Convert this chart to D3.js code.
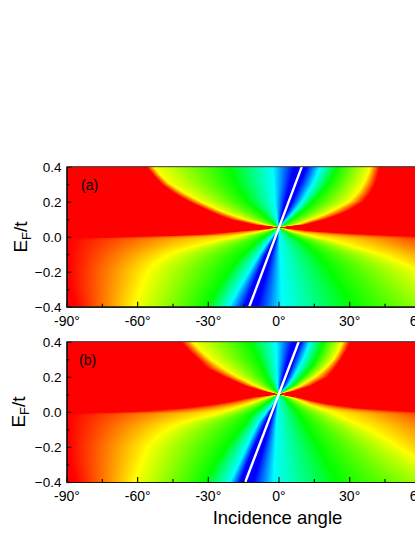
<!DOCTYPE html>
<html>
<head>
<meta charset="utf-8">
<script src="https://cdn.jsdelivr.net/npm/d3@7"></script>
<style>
  html, body { margin: 0; padding: 0; background: #fff; overflow: hidden; }
  svg { display: block; }
  text { font-family: "Liberation Sans", Arial, sans-serif; fill: #000; }
</style>
</head>
<body>
<svg id="chart" width="415" height="537"></svg>
<script>
// tick labels
var angleTicks = [-90, -60, -30, 0, 30, 60, 90];
var angleMinorTicks = [-75, -45, -15, 15, 45, 75];
var energyTicks = [-0.4, -0.2, 0.0, 0.2, 0.4];
var energyMinorTicks = [-0.3, -0.1, 0.1, 0.3];

// colour at each iso line, left to right across the panel
var isoColors = ["#ff0000", "#ffff00", "#00ff00", "#00ffff", "#0000ff", "#0000ff", "#00ffff", "#00ff00", "#ffff00", "#ff0000"];

// panel (a): E_F rows, and the angle where each colour is reached on that row
var rowsA = [0.4, 0.35, 0.3, 0.25, 0.2, 0.15, 0.125, 0.1, 0.07, 0.053, 0.04, 0.03, 0.02, 0.01, 0, -0.01, -0.02, -0.05, -0.07, -0.1, -0.15, -0.2, -0.3, -0.4];
var redLeftA = [-56, -53, -49.5, -44.5, -38, -30, -26, -21, -11, 0, -8.5, -18, -27, -36, -63, -85, -89, -89, -89, -89, -89, -89, -88, -86];
var yellowLeftA = [-53, -50, -46, -40, -33, -25, -20, -14.5, -6, 0, -3.5, -7.5, -11, -15, -17.5, -20, -25, -34, -39.5, -46, -52, -55.5, -58.5, -61];
var greenLeftA = [-21, -19.5, -18, -15.5, -13, -8.5, -6.3, -4, -1.5, 0, -1.2, -2.4, -3.6, -4.8, -6, -7, -8, -10.5, -12, -14.5, -18, -21, -26, -30];
var cyanLeftA = [-2.5, -2.2, -2, -1.7, -1.5, -1, -0.8, -0.5, -0.2, 0, -0.5, -1, -1.5, -2, -2.7, -3.2, -3.8, -5.5, -6.5, -8, -10.3, -12.5, -17, -21];
var blueLeftA = [6.5, 5.6, 4.8, 3.8, 2.8, 1.8, 1.3, 0.8, 0.3, 0, -0.3, -0.6, -0.9, -1.2, -1.5, -1.9, -2.2, -3.5, -4.2, -5.5, -7, -8.5, -11.5, -14.5];
var blueRightA = [12, 10.5, 9, 7.4, 5.8, 4, 3, 2, 0.8, 0, -0.1, -0.2, -0.3, -0.4, -0.6, -0.8, -1, -1.8, -2.3, -3, -4, -5, -7, -9];
var cyanRightA = [17.7, 16.2, 14.5, 12.3, 10, 7, 5.3, 3.5, 1.5, 0, 0.1, 0.15, 0.2, 0.25, 0.3, 0.35, 0.4, 0.5, 0.55, 0.6, 0.8, 1, 1.2, 1.5];
var greenRightA = [25, 23.2, 21, 17.8, 14.5, 10.5, 8, 5.5, 2.5, 0, 1.5, 2.8, 4, 5.2, 6.5, 7.7, 9, 12, 13.6, 16, 19.3, 22, 27, 31];
var yellowRightA = [39, 37.8, 36, 33.5, 30, 23, 19, 14.5, 8, 0, 3.5, 5.5, 8.5, 12, 14.5, 18, 22, 30, 35, 43, 52.5, 60, 69, 80];
var redRightA = [43, 42.2, 41, 39, 36, 30, 25.5, 20, 11.5, 0, 8, 16, 28, 42, 60, 72, 76, 82, 85, 90, 90, 90, 90, 90];
var whiteAnglesA = [-12.4, 9.9];

// panel (b)
var rowsB = [0.4, 0.35, 0.3, 0.25, 0.2, 0.15, 0.12, 0.1, 0.08, 0.06, 0.04, 0.02, 0, -0.01, -0.02, -0.05, -0.07, -0.1, -0.15, -0.2, -0.3, -0.4];
var redLeftB = [-41.5, -38, -34, -30.5, -23, -14.5, -7, 0, -12.5, -20, -29, -42, -63, -85, -89, -89, -89, -89, -89, -89, -88, -86];
var yellowLeftB = [-36.5, -33, -29, -23.5, -17.5, -10, -4.5, 0, -5, -9.5, -13.5, -18.5, -23.5, -26, -28, -38, -42.5, -47, -52, -55.5, -58.5, -61];
var greenLeftB = [-12, -10, -8.5, -6.5, -5, -3, -1, 0, -2, -4, -6, -8, -10, -11, -12, -13, -14, -16, -19, -22, -27, -31];
var cyanLeftB = [-1, -0.9, -0.8, -0.7, -0.5, -0.3, -0.1, 0, -0.8, -1.5, -2.5, -3.5, -5, -5.5, -6, -8, -8.8, -10, -11.8, -13.5, -17, -20.5];
var blueLeftB = [6.2, 5, 4, 3, 2, 0.9, 0.4, 0, -0.7, -1.4, -2.1, -2.8, -3.6, -3.9, -4.3, -5.3, -6, -7, -8.8, -10.5, -13.5, -16.3];
var blueRightB = [9.5, 8, 6.5, 5.2, 3.8, 2, 0.9, 0, -0.3, -0.8, -1.2, -1.6, -2, -2.2, -2.5, -3.2, -3.6, -4.2, -5.2, -6.3, -8.5, -10.6];
var cyanRightB = [13.3, 12, 10.5, 8.5, 6.5, 4, 1.8, 0, -0.1, -0.2, -0.3, -0.4, -0.5, -0.6, -0.7, -0.8, -0.9, -1, -1.15, -1.3, -1.7, -2];
var greenRightB = [19, 17.5, 15.8, 13.5, 10, 6, 2.5, 0, 2.5, 4, 5.5, 6.5, 8, 8.3, 9, 10.5, 11.2, 12.5, 14.8, 17, 21, 25];
var yellowRightB = [27, 25.5, 23.5, 20, 15.5, 9.5, 4.5, 0, 6, 10, 13, 17.5, 22, 23.5, 25, 30, 33.5, 38, 45, 51, 63, 78];
var redRightB = [30.5, 28.8, 26.5, 24, 21, 14, 7, 0, 9, 15, 23, 35, 58, 72, 76, 82, 85, 90, 90, 90, 90, 90];
var whiteAnglesB = [-14.1, 8.6];

var whiteEnergies = [-0.4, 0.4]; // both white lines run the full height of the panel

var svg = d3.select("#chart");
var defs = svg.append("defs");
var xLeft = 66.5, xRight = 490.5;

var xScale = d3.scaleLinear().domain([-90, 90]).range([xLeft, xRight]);

function drawPanel(id, top, bottom, rows, isoLines, whiteAngles, letter, letterX, letterY, labelX, labelY) {
  var yScale = d3.scaleLinear().domain([-0.4, 0.4]).range([bottom, top]);
  var g = svg.append("g");

  defs.append("clipPath").attr("id", "clip" + id)
    .append("rect").attr("x", xLeft).attr("y", top).attr("width", xRight - xLeft).attr("height", bottom - top);

  // one scale per iso line, E_F -> angle
  var isoScales = isoLines.map(function(angles) {
    return d3.scaleLinear().domain(rows).range(angles);
  });

  // the map is a stack of 1px strips, each with a gradient through the iso line angles of that row
  var strips = d3.range(Math.floor(top), Math.ceil(bottom));
  var map = g.append("g").attr("clip-path", "url(#clip" + id + ")");

  strips.forEach(function(py) {
    var energy = yScale.invert(py + 0.5);
    var gradId = "strip" + id + py;
    var grad = defs.append("linearGradient").attr("id", gradId)
      .attr("gradientUnits", "userSpaceOnUse")
      .attr("x1", xLeft).attr("x2", xRight).attr("y1", 0).attr("y2", 0);
    isoScales.forEach(function(iso, i) {
      grad.append("stop")
        .attr("offset", (xScale(iso(energy)) - xLeft) / (xRight - xLeft))
        .attr("stop-color", isoColors[i]);
    });
    map.append("rect")
      .attr("x", xLeft).attr("y", py)
      .attr("width", xRight - xLeft).attr("height", 1)
      .attr("shape-rendering", "crispEdges")
      .attr("fill", "url(#" + gradId + ")");
  });

  // white line through the Dirac point
  var line = d3.line()
    .x(function(d) { return xScale(d[0]); })
    .y(function(d) { return yScale(d[1]); });
  map.append("path")
    .attr("d", line(d3.zip(whiteAngles, whiteEnergies)))
    .attr("fill", "none").attr("stroke", "#fff").attr("stroke-width", 2.4);

  // axes, ticks point into the panel
  var xAxis = d3.axisBottom(xScale).tickValues(angleTicks).tickSizeInner(-5).tickSizeOuter(0).tickPadding(9)
    .tickFormat(function(d) { return d + "°"; });
  var xMinor = d3.axisBottom(xScale).tickValues(angleMinorTicks).tickSizeInner(-3).tickSizeOuter(0).tickFormat("");
  var yAxis = d3.axisLeft(yScale).tickValues(energyTicks).tickSizeInner(-5).tickSizeOuter(0).tickPadding(5)
    .tickFormat(d3.format(".1f"));
  var yMinor = d3.axisLeft(yScale).tickValues(energyMinorTicks).tickSizeInner(-3).tickSizeOuter(0).tickFormat("");

  [
    g.append("g").attr("transform", "translate(0," + bottom + ")").call(xMinor),
    g.append("g").attr("transform", "translate(0," + bottom + ")").call(xAxis),
    g.append("g").attr("transform", "translate(" + xLeft + ",0)").call(yMinor),
    g.append("g").attr("transform", "translate(" + xLeft + ",0)").call(yAxis)
  ].forEach(function(a, i) {
    a.selectAll("path,line").attr("stroke", "#111").attr("stroke-width", 1.2);
    a.selectAll("text").attr("font-size", i < 2 ? 14 : 13.5).attr("font-family", '"Liberation Sans", Arial, sans-serif').attr("fill", "#000");
  });

  g.append("line").attr("x1", xLeft).attr("x2", xRight)
    .attr("y1", top).attr("y2", top)
    .attr("stroke", "#333").attr("stroke-width", 1);

  g.append("text").attr("x", letterX).attr("y", letterY).attr("font-size", 14).text(letter);

  var yLabel = g.append("text")
    .attr("transform", "translate(" + labelX + "," + labelY + ") rotate(-90)")
    .attr("text-anchor", "middle").attr("font-size", 19);
  yLabel.append("tspan").text("E");
  yLabel.append("tspan").attr("font-size", 13).attr("dy", 4).text("F");
  yLabel.append("tspan").attr("dy", -4).text("/t");
}

drawPanel("a", 166.7, 306.7, rowsA,
  [redLeftA, yellowLeftA, greenLeftA, cyanLeftA, blueLeftA, blueRightA, cyanRightA, greenRightA, yellowRightA, redRightA],
  whiteAnglesA, "(a)", 81, 190, 27, 237);

drawPanel("b", 341.7, 482, rowsB,
  [redLeftB, yellowLeftB, greenLeftB, cyanLeftB, blueLeftB, blueRightB, cyanRightB, greenRightB, yellowRightB, redRightB],
  whiteAnglesB, "(b)", 79, 365, 25, 412);

svg.append("text").attr("x", 277.5).attr("y", 524)
  .attr("text-anchor", "middle").attr("font-size", 18.5)
  .text("Incidence angle");
</script>
</body>
</html>
